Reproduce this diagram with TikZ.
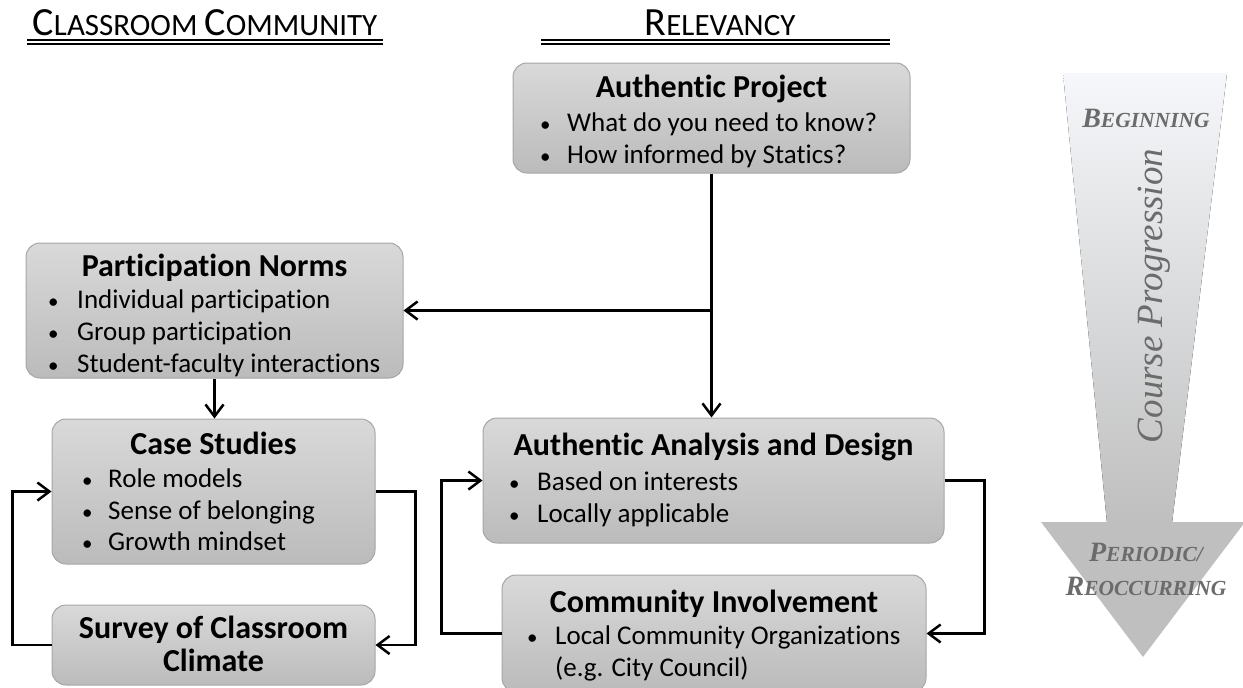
\documentclass[tikz,border=0pt]{standalone}
\usepackage{fontspec}
\setmainfont{Carlito}[Ligatures=CommonOff]
\newfontfamily\timesfont{Liberation Serif}
\usetikzlibrary{arrows.meta}

\definecolor{boxtop}{HTML}{D9D9D9}
\definecolor{boxbot}{HTML}{BBBBBB}
\definecolor{boxline}{HTML}{A6A6A6}
\definecolor{arrowtop}{HTML}{F5F7FA}
\definecolor{arrowbot}{HTML}{BFBFBF}
\definecolor{arrowtext}{HTML}{6B6B6B}

\newcommand{\headsc}[2]{{\fontsize{40pt}{40pt}\selectfont #1}{\fontsize{31pt}{31pt}\selectfont #2}}
\newcommand{\arrowsc}[2]{{\fontsize{28pt}{28pt}\selectfont #1}{\fontsize{21.5pt}{21.5pt}\selectfont #2}}
\newcommand{\dotmark}{{\fontsize{21pt}{21pt}\selectfont\textbullet}}

\tikzset{
  box/.style={draw=boxline, line width=1pt, rounded corners=14pt,
    top color=boxtop, bottom color=boxbot, inner sep=0pt},
  boxtitle/.style={anchor=base, inner sep=0pt,
    font=\fontsize{32pt}{32pt}\selectfont\bfseries},
  boxitem/.style={anchor=base west, inner sep=0pt,
    font=\fontsize{27pt}{27pt}\selectfont},
  heading/.style={anchor=base, inner sep=0pt,
    font=\fontsize{31pt}{31pt}\selectfont},
  conn/.style={line width=2.5pt, -{Straight Barb[length=12pt,width=18pt]}},
  uline/.style={line width=1.3pt},
  steptext/.style={anchor=base, inner sep=0pt, text=arrowtext,
    font=\timesfont\bfseries\itshape}
}

\begin{document}
\begin{tikzpicture}[x=1pt, y=-1pt]
        \useasboundingbox (0,0) rectangle (1243,688);

        % headings
        \node[heading] (cchead) at (205,35) {\headsc{C}{LASSROOM} \headsc{C}{OMMUNITY}};
        \draw[uline] (27,40) -- (383,40);
        \draw[uline] (27,44) -- (383,44);
        \node[heading] (relhead) at (720,35) {\headsc{R}{ELEVANCY}};
        \draw[uline] (541,40) -- (890,40);
        \draw[uline] (541,44) -- (890,44);

        % boxes
        \node[box, minimum width=397pt, minimum height=110pt] (ap) at (711.5,118) {};
        \node[box, minimum width=377pt, minimum height=135pt] (pn) at (214.5,310.5) {};
        \node[box, minimum width=323pt, minimum height=145pt] (cs) at (213.5,491.5) {};
        \node[box, minimum width=323pt, minimum height=80pt] (sv) at (213.5,645) {};
        \node[box, minimum width=461pt, minimum height=125pt] (aad) at (713.5,480.5) {};
        \node[box, minimum width=424pt, minimum height=117pt] (ci) at (714,633.5) {};

        \node[boxtitle] (aptitle) at (711.5,97) {Authentic Project};
        \node[boxitem] (apdot1) at (540,131) {\dotmark};
        \node[boxitem] (apdot2) at (540,163) {\dotmark};
        \node[boxitem] (apitem1) at (567,131) {What do you need to know?};
        \node[boxitem] (apitem2) at (567,163) {How informed by Statics?};

        \node[boxtitle] (pntitle) at (214.5,276) {Participation Norms};
        \node[boxitem] (pndot1) at (48,308) {\dotmark};
        \node[boxitem] (pndot2) at (48,340) {\dotmark};
        \node[boxitem] (pndot3) at (48,372) {\dotmark};
        \node[boxitem] (pnitem1) at (77,308) {Individual participation};
        \node[boxitem] (pnitem2) at (77,340) {Group participation};
        \node[boxitem] (pnitem3) at (77,372) {Student-faculty interactions};

        \node[boxtitle] (cstitle) at (213.5,454) {Case Studies};
        \node[boxitem] (csdot1) at (82,487) {\dotmark};
        \node[boxitem] (csdot2) at (82,519) {\dotmark};
        \node[boxitem] (csdot3) at (82,550) {\dotmark};
        \node[boxitem] (csitem1) at (108,487) {Role models};
        \node[boxitem] (csitem2) at (108,519) {Sense of belonging};
        \node[boxitem] (csitem3) at (108,550) {Growth mindset};

        \node[boxtitle] (svtitle1) at (213.5,638) {Survey of Classroom};
        \node[boxtitle] (svtitle2) at (213.5,671) {Climate};

        \node[boxtitle] (aadtitle) at (713.5,455) {Authentic Analysis and Design};
        \node[boxitem] (aaddot1) at (509,490) {\dotmark};
        \node[boxitem] (aaddot2) at (509,522) {\dotmark};
        \node[boxitem] (aaditem1) at (537,490) {Based on interests};
        \node[boxitem] (aaditem2) at (537,522) {Locally applicable};

        \node[boxtitle] (cititle) at (714,612) {Community Involvement};
        \node[boxitem] (cidot1) at (527,644) {\dotmark};
        \node[boxitem] (ciitem1) at (555,644) {Local Community Organizations};
        \node[boxitem] (ciitem2) at (555,676) {(e.g. City Council)};

        % connectors
        \draw[conn] (ap.south) -- (ap.south |- aad.north);
        \coordinate (split) at (ap.south |- pn.east);
        \draw[conn] (split) -- (pn.east);
        \draw[conn] (pn.south) -- (pn.south |- cs.north);
        \draw[conn] (sv.west) -- ++(-39,0) |- (cs.west);
        \draw[conn] (cs.east) -- ++(40,0) |- (sv.east);
        \draw[conn] (ci.west) -- ++(-60,0) |- (aad.west);
        \draw[conn] (aad.east) -- ++(40,0) |- (ci.east);

        % course progression arrow
        \fill[top color=arrowtop, bottom color=arrowbot] (1063,73) -- (1227,73) -- (1172,523) -- (1107,523) -- cycle;
        \fill[arrowbot] (1041,522) -- (1245,522) -- (1143,657) -- cycle;
        \node[steptext] (begin) at (1146,127) {\arrowsc{B}{EGINNING}};
        \node[steptext, rotate=90, font=\timesfont\itshape\fontsize{37pt}{37pt}\selectfont] (prog) at (1162,296) {Course Progression};
        \node[steptext] (periodic) at (1146,561) {\arrowsc{P}{ERIODIC/}};
        \node[steptext] (reocc) at (1146,595) {\arrowsc{R}{EOCCURRING}};

    \end{tikzpicture}
\end{document}
